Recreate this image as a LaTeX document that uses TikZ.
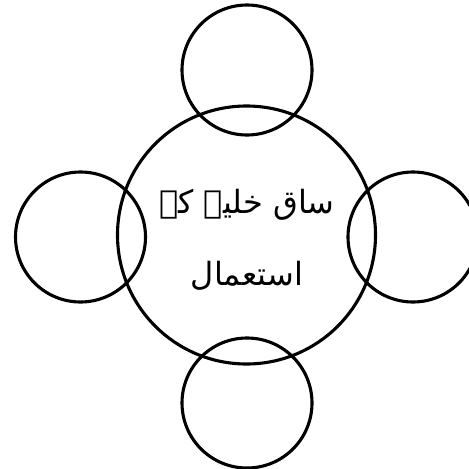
\documentclass[tikz,border=0pt]{standalone}
\usepackage{fontspec}
\newfontfamily\arabicfont[Script=Arabic]{DejaVu Sans}
\TeXXeTstate=1
\begin{document}
\begin{tikzpicture}[x=1pt,y=-1pt,
  ring/.style={draw=black,line width=3.1pt,circle,inner sep=0pt},
  label/.style={font=\arabicfont\fontsize{32}{72}\selectfont,align=center}]
\useasboundingbox (0,0) rectangle (469,469);
\clip (0,0) rectangle (469,469);
\node[ring,minimum size=258pt] (c) at (246.5,235) {};
\node[ring,minimum size=130pt] (t) at (247,70) {};
\node[ring,minimum size=130pt] (l) at (80.5,237) {};
\node[ring,minimum size=130pt] (r) at (413,237) {};
\node[ring,minimum size=130pt] (b) at (247,403) {};
\node[label] (txt) at (247,240) {\beginR ساق خلیے کے\endR\\\beginR استعمال\endR};
\end{tikzpicture}
\end{document}
